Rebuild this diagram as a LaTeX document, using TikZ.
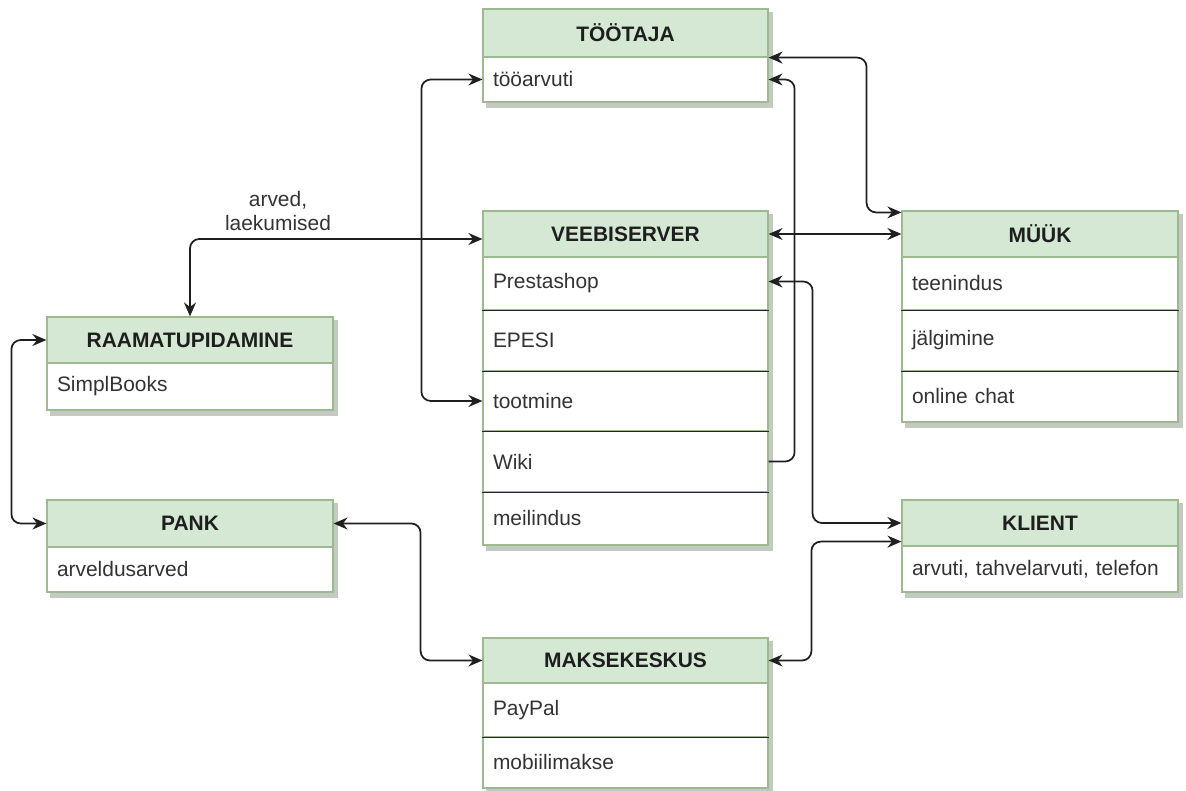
\documentclass[tikz,border=0pt]{standalone}
\usepackage{fontspec}
\setmainfont{Liberation Sans}
\usetikzlibrary{arrows.meta,calc,backgrounds}
\definecolor{hdrfill}{HTML}{D5E8D4}
\definecolor{hdrdraw}{HTML}{9CB98F}
\definecolor{shadowc}{HTML}{C4CAC2}
\definecolor{txtc}{HTML}{333333}
\definecolor{hdrtxt}{HTML}{1E1E1E}
\newcommand\mkhdr[6]{%
  \pgfmathsetmacro\myrw{#5*0.75}\pgfmathsetmacro\myrh{(#4-#3)*0.75}%
  \node[hdrbox, minimum width=\myrw pt, minimum height=\myrh pt] (#1) at ({#2+#5/2},{(#3+#4)/2}) {#6};}
\newcommand\mkrow[6]{%
  \pgfmathsetmacro\myrw{#5*0.75}\pgfmathsetmacro\myrh{(#4-#3)*0.75}\pgfmathsetmacro\mytw{#5*0.75-15}%
  \node[rowbox, minimum width=\myrw pt, minimum height=\myrh pt, text width=\mytw pt] (#1) at ({#2+#5/2},{(#3+#4)/2}) {#6};}
\begin{document}
\begin{tikzpicture}[x=0.75pt,y=-0.75pt,
  font=\fontsize{15.7pt}{18pt}\selectfont,
  hdrbox/.style={draw=hdrdraw, fill=hdrfill, line width=0.9pt, inner sep=0pt, text=hdrtxt, font=\fontsize{15.7pt}{18pt}\selectfont\bfseries},
  rowbox/.style={draw=hdrdraw, fill=white, line width=0.9pt, inner xsep=7.5pt, inner ysep=0pt, align=left, text=txtc},
  sepline/.style={draw=black!85, line width=1.2pt},
  arr/.tip={Stealth[length=10.5pt,width=9pt,inset=3.5pt]},
  conn/.style={draw=black!88, line width=1.3pt, rounded corners=7pt},
  biconn/.style={conn, arr-arr},
  oneconn/.style={conn, -arr},
  lbl/.style={align=center, text=txtc, inner sep=1pt}
]
\useasboundingbox (0,0) rectangle (1186,791);
% TOOTAJA
\mkhdr{too-h}{483}{9}{57}{285}{TÖÖTAJA}
\mkrow{too-1}{483}{57}{102}{285}{tööarvuti}
% VEEBISERVER
\mkhdr{vs-h}{483}{211}{257}{285}{VEEBISERVER}
\mkrow{vs-1}{483}{257}{310}{285}{Prestashop}
\mkrow{vs-2}{483}{310}{371}{285}{EPESI}
\mkrow{vs-3}{483}{371}{431}{285}{tootmine}
\mkrow{vs-4}{483}{431}{492}{285}{Wiki}
\mkrow{vs-5}{483}{492}{545}{285}{meilindus}
% MUUK
\mkhdr{mu-h}{902}{211}{257}{276}{MÜÜK}
\mkrow{mu-1}{902}{257}{310}{276}{teenindus}
\mkrow{mu-2}{902}{310}{371}{276}{jälgimine}
\mkrow{mu-3}{902}{371}{422}{276}{online chat}
% RAAMATUPIDAMINE
\mkhdr{ra-h}{47}{317}{363}{286}{RAAMATUPIDAMINE}
\mkrow{ra-1}{47}{363}{410}{286}{SimplBooks}
% PANK
\mkhdr{pa-h}{47}{500}{547}{286}{PANK}
\mkrow{pa-1}{47}{547}{592}{286}{arveldusarved}
% KLIENT
\mkhdr{kl-h}{902}{500}{546}{276}{KLIENT}
\mkrow{kl-1}{902}{546}{592}{276}{arvuti, tahvelarvuti, telefon}
% MAKSEKESKUS
\mkhdr{mk-h}{483}{638}{683}{285}{MAKSEKESKUS}
\mkrow{mk-1}{483}{683}{737}{285}{PayPal}
\mkrow{mk-2}{483}{737}{788}{285}{mobiilimakse}

% separators
\foreach \n in {vs-1,vs-2,vs-3,vs-4,mu-1,mu-2,mk-1}
  \draw[sepline] (\n.south west) -- (\n.south east);

% shadows
\begin{scope}[on background layer]
  \fill[shadowc] ($(too-h.north west)+(4,4)$) rectangle ($(too-1.south east)+(4,5)$);
  \fill[shadowc] ($(vs-h.north west)+(4,4)$) rectangle ($(vs-5.south east)+(4,5)$);
  \fill[shadowc] ($(mu-h.north west)+(4,4)$) rectangle ($(mu-3.south east)+(4,5)$);
  \fill[shadowc] ($(ra-h.north west)+(4,4)$) rectangle ($(ra-1.south east)+(4,5)$);
  \fill[shadowc] ($(pa-h.north west)+(4,4)$) rectangle ($(pa-1.south east)+(4,5)$);
  \fill[shadowc] ($(kl-h.north west)+(4,4)$) rectangle ($(kl-1.south east)+(4,5)$);
  \fill[shadowc] ($(mk-h.north west)+(4,4)$) rectangle ($(mk-2.south east)+(4,5)$);
\end{scope}

% label
\node[lbl] (lab) at (278,211) {arved,\\laekumised};

% connectors
\draw[biconn] (too-h.south east) -- ++(98,0) |- ($(mu-h.north west)+(0,2)$);
\draw[biconn] (vs-h.east) -- (mu-h.west);
\draw[biconn] (ra-h.north) |- ($(vs-h.west)+(0,5)$);
\draw[biconn] (too-1.west) -- ++(-61,0) |- (vs-3.west);
\draw[oneconn] (vs-4.east) -- ++(26,0) |- (too-1.east);
\draw[biconn] ($(vs-1.east)+(0,-2)$) -- ++(44,0) |- (kl-h.west);
\draw[biconn] ($(kl-h.south west)+(0,-5)$) -- ++(-90,0) |- (mk-h.east);
\draw[biconn] (pa-h.east) -- ++(87,0) |- (mk-h.west);
\draw[biconn] (ra-h.west) -- ++(-35,0) |- (pa-h.west);
\end{tikzpicture}
\end{document}
